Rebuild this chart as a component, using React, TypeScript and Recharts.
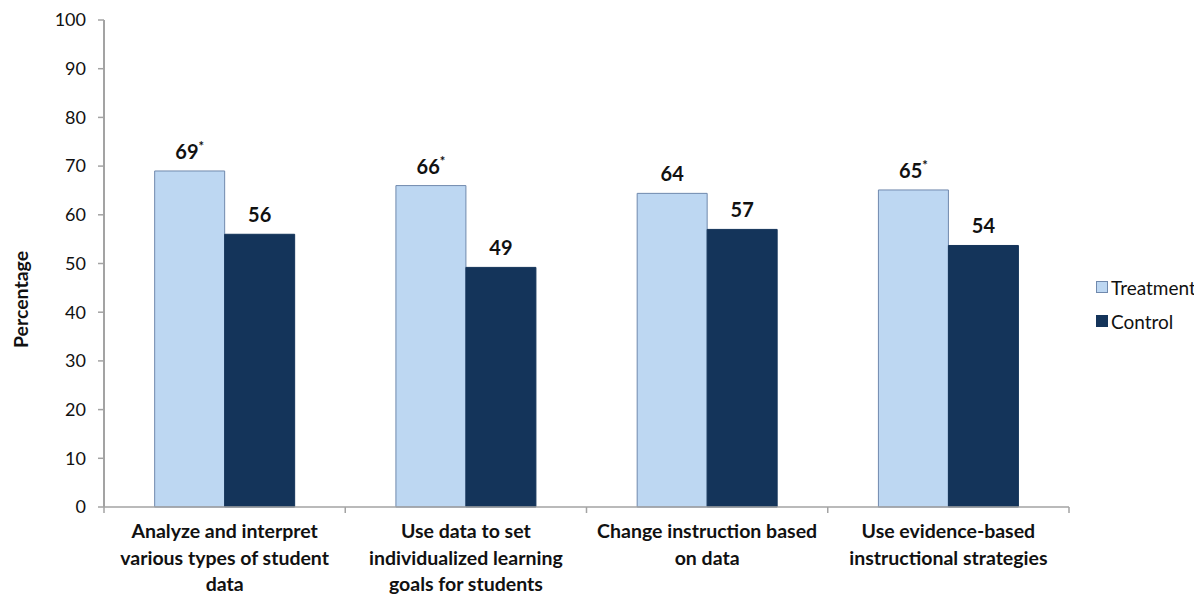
import React from "react";
import { BarChart, Bar, XAxis, YAxis, Legend, LabelList } from "recharts";

// Share of teachers reporting each data-use skill, by study group
const categories = [
  "Analyze and interpret various types of student data",
  "Use data to set individualized learning goals for students",
  "Change instruction based on data",
  "Use evidence-based instructional strategies",
];
const categoryLines: string[][] = [
  ["Analyze and interpret", "various types of student", "data"],
  ["Use data to set", "individualized learning", "goals for students"],
  ["Change instruction based", "on data"],
  ["Use evidence-based", "instructional strategies"],
];
const treatmentValues = [69, 66, 64.4, 65.1];
const controlValues = [56, 49.2, 57, 53.7];
// Statistically significant treatment-control differences
const significant = [true, true, false, true];
const yTicks = [0, 10, 20, 30, 40, 50, 60, 70, 80, 90, 100];

const data = categories.map((name, i) => ({
  name,
  idx: i,
  Treatment: treatmentValues[i],
  Control: controlValues[i],
}));

const FONT = "Lato, 'Open Sans', sans-serif";
const AXIS_COLOR = "#a3a3a3";
const TREATMENT_FILL = "#bdd7f2";
const TREATMENT_STROKE = "#7089ad";
const CONTROL_FILL = "#14345a";

const W = 1194;
const H = 588;
const MARGIN = { top: 12, right: 133, left: 0, bottom: 4 };
const Y_AXIS_W = 96;
const X_AXIS_H = 85;
const plotWidth = W - MARGIN.left - MARGIN.right - Y_AXIS_W;
const bandHalf = plotWidth / categories.length / 2;

const CategoryTick = (props: any) => {
  const { x, y, payload, index } = props;
  const i = payload?.index ?? index;
  const half = payload?.offset ?? bandHalf;
  const lines = categoryLines[i] || [];
  const last = i === categories.length - 1;
  return (
    <g>
      <line x1={x - half} x2={x - half} y1={y} y2={y + 6} stroke={AXIS_COLOR} strokeWidth={1.5} />
      {last && (
        <line x1={x + half} x2={x + half} y1={y} y2={y + 6} stroke={AXIS_COLOR} strokeWidth={1.5} />
      )}
      <text
        x={x}
        y={y + 31}
        textAnchor="middle"
        fontFamily={FONT}
        fontWeight={700}
        fontSize={19.5}
        fill="#111"
      >
        {lines.map((l, k) => (
          <tspan key={k} x={x} dy={k === 0 ? 0 : 26.5}>
            {l}
          </tspan>
        ))}
      </text>
    </g>
  );
};

const makeValueLabel = (flags: boolean[] | null) => (props: any) => {
  const { x, y, width, value, index } = props;
  const star = flags ? flags[index] : false;
  return (
    <text
      x={Number(x) + Number(width) / 2}
      y={Number(y) - 12}
      textAnchor="middle"
      fontFamily={FONT}
      fontWeight={700}
      fontSize={20}
      fill="#111"
    >
      {Math.round(Number(value))}
      {star && (
        <tspan fontSize={13} dy={-8}>
          *
        </tspan>
      )}
    </text>
  );
};

const YTitle = (props: any) => {
  const vb = props.viewBox || {};
  const cx = 12;
  const cy = (vb.y ?? MARGIN.top) + (vb.height ?? 487) / 2 + 36;
  return (
    <text
      x={cx}
      y={cy}
      transform={`rotate(-90 ${cx} ${cy})`}
      textAnchor="middle"
      dominantBaseline="central"
      fontFamily={FONT}
      fontWeight={700}
      fontSize={19.5}
      fill="#111"
    >
      Percentage
    </text>
  );
};

const LegendBox = () => {
  const items = [
    { label: "Treatment", fill: TREATMENT_FILL, stroke: TREATMENT_STROKE },
    { label: "Control", fill: CONTROL_FILL, stroke: CONTROL_FILL },
  ];
  return (
    <div style={{ fontFamily: FONT, fontSize: 19, color: "#111" }}>
      {items.map((it) => (
        <div
          key={it.label}
          style={{ display: "flex", alignItems: "center", height: 34 }}
        >
          <span
            style={{
              display: "inline-block",
              width: 10,
              height: 10,
              background: it.fill,
              border: `1px solid ${it.stroke}`,
              marginRight: 3,
            }}
          />
          <span>{it.label}</span>
        </div>
      ))}
    </div>
  );
};

export default function App() {
  return (
    <BarChart
      width={W}
      height={H}
      data={data}
      margin={MARGIN}
      barCategoryGap="21%"
      barGap={0}
    >
      <XAxis
        dataKey="name"
        height={X_AXIS_H}
        interval={0}
        tickLine={false}
        tickSize={0}
        tickMargin={0}
        tick={<CategoryTick />}
        axisLine={{ stroke: AXIS_COLOR, strokeWidth: 1.5 }}
      />
      <YAxis
        width={Y_AXIS_W}
        domain={[0, 100]}
        ticks={yTicks}
        interval={0}
        tickSize={6}
        tickMargin={12}
        tickLine={{ stroke: AXIS_COLOR, strokeWidth: 1.5 }}
        axisLine={{ stroke: AXIS_COLOR, strokeWidth: 2 }}
        tick={{ fontFamily: FONT, fontSize: 18, fill: "#111" }}
        label={<YTitle />}
      />
      <Legend
        layout="vertical"
        align="center"
        verticalAlign="middle"
        content={<LegendBox />}
        wrapperStyle={{ position: "absolute", left: 1088, top: 262, width: 110 }}
      />
      <Bar
        dataKey="Treatment"
        fill={TREATMENT_FILL}
        stroke={TREATMENT_STROKE}
        strokeWidth={1}
        isAnimationActive={false}
      >
        <LabelList dataKey="Treatment" content={makeValueLabel(significant)} />
      </Bar>
      <Bar
        dataKey="Control"
        fill={CONTROL_FILL}
        stroke={CONTROL_FILL}
        strokeWidth={1}
        isAnimationActive={false}
      >
        <LabelList dataKey="Control" content={makeValueLabel(null)} />
      </Bar>
    </BarChart>
  );
}
